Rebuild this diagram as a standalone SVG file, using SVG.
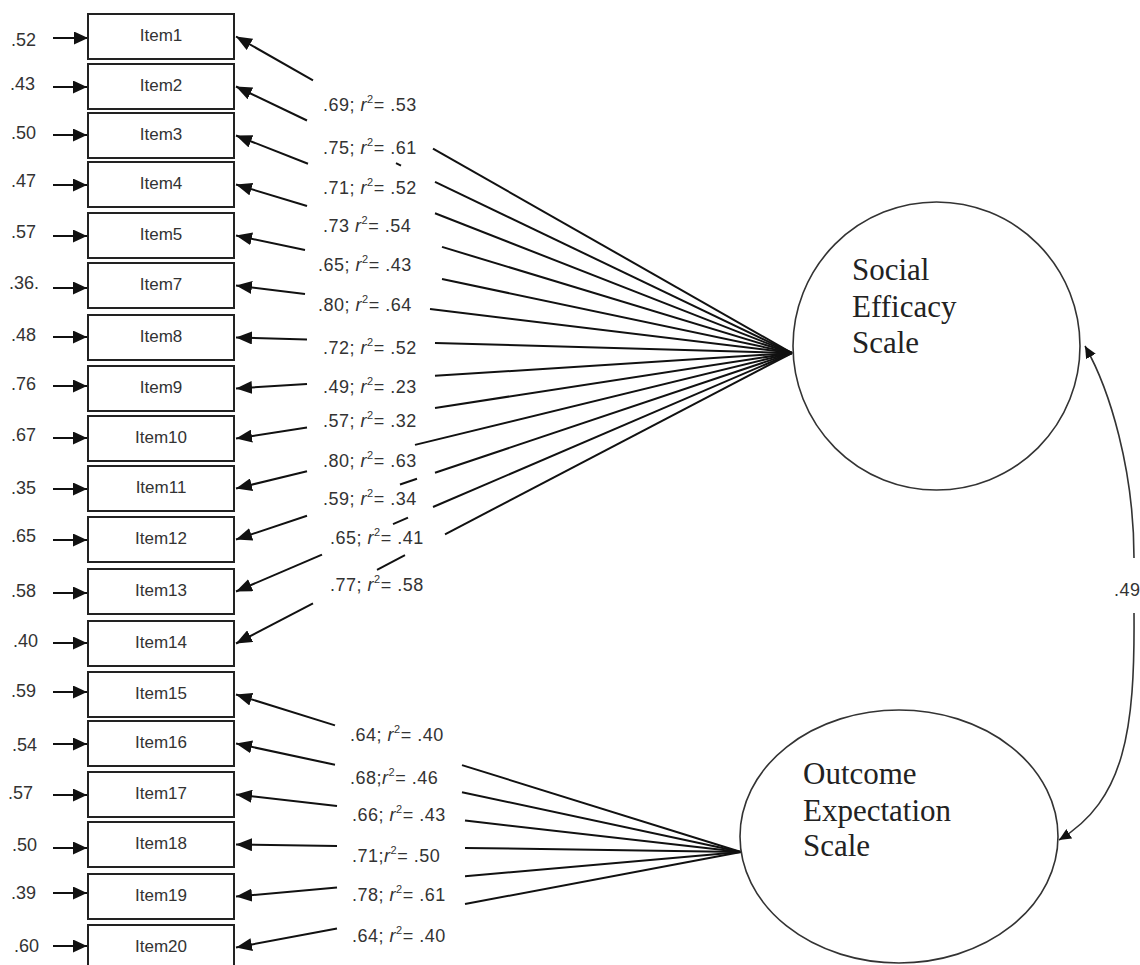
<svg xmlns="http://www.w3.org/2000/svg" width="1140" height="965" viewBox="0 0 1140 965">
<style>
.box{fill:#fff;stroke:#222;stroke-width:2}
.lat{fill:#fff;stroke:#333;stroke-width:1.6}
.it{font-family:"Liberation Sans",Arial,sans-serif;font-size:17px;fill:#333;text-anchor:middle}
.er{font-family:"Liberation Sans",Arial,sans-serif;font-size:18px;fill:#333}
.lb{font-family:"Liberation Sans",Arial,sans-serif;font-size:18px;fill:#333;letter-spacing:0.5px}
.lt{font-family:"Liberation Serif","Times New Roman",serif;font-size:31px;fill:#222}
.ln{fill:none;stroke:#111;stroke-width:2}
.la{fill:none;stroke:#111;stroke-width:2;marker-end:url(#ah)}
.ea{fill:none;stroke:#111;stroke-width:2;marker-end:url(#eh)}
.cv{fill:none;stroke:#333;stroke-width:1.6}
.i{font-style:italic}
</style>
<defs>
<marker id="ah" markerUnits="userSpaceOnUse" markerWidth="17" markerHeight="13" refX="16" refY="6.5" orient="auto"><path d="M0,0 L16,6.5 L0,13 z" fill="#111"/></marker>
<marker id="eh" markerUnits="userSpaceOnUse" markerWidth="15" markerHeight="13" refX="14" refY="6.5" orient="auto"><path d="M0,0 L14,6.5 L0,13 z" fill="#111"/></marker>
<marker id="ch" markerUnits="userSpaceOnUse" markerWidth="13" markerHeight="11" refX="12" refY="5.5" orient="auto-start-reverse"><path d="M0,0 L12,5.5 L0,11 z" fill="#111"/></marker>
</defs>
<rect width="1140" height="965" fill="#fff"/>

<g id="connectors">
<path class="ea" d="M53,38 H88"/>
<path class="ea" d="M53,87 H87"/>
<path class="ea" d="M53,135 H87"/>
<path class="ea" d="M53,185 H87"/>
<path class="ea" d="M53,236 H87"/>
<path class="ea" d="M53,288 H87"/>
<path class="ea" d="M53,337 H87"/>
<path class="ea" d="M53,386 H87"/>
<path class="ea" d="M53,438 H87"/>
<path class="ea" d="M53,489 H87"/>
<path class="ea" d="M53,540 H87"/>
<path class="ea" d="M53,593 H87"/>
<path class="ea" d="M53,643 H87"/>
<path class="ea" d="M53,692 H87"/>
<path class="ea" d="M53,744 H87"/>
<path class="ea" d="M53,795 H87"/>
<path class="ea" d="M53,848 H87"/>
<path class="ea" d="M53,893 H87"/>
<path class="ea" d="M53,946 H87"/>
<path class="la" d="M313,80.3 L236,36.5"/>
<path class="la" d="M307,120.5 L236,86.5"/>
<path class="la" d="M308,163.7 L236,135.5"/>
<path class="la" d="M307,206 L236,184.5"/>
<path class="la" d="M305,250.1 L236,235.5"/>
<path class="la" d="M305,293.9 L236,285.5"/>
<path class="la" d="M307,339.5 L236,337.5"/>
<path class="la" d="M307,384 L236,388.5"/>
<path class="la" d="M307,427.6 L236,438.5"/>
<path class="la" d="M307,471.2 L236,488.5"/>
<path class="la" d="M307,515.7 L236,539.5"/>
<path class="la" d="M322,554.6 L236,591.5"/>
<path class="la" d="M313,603.3 L236,643.5"/>
<path class="ln" d="M433,148.6 L792,353"/>
<path class="ln" d="M435,181.9 L792,353"/>
<path class="ln" d="M435,213.3 L792,353"/>
<path class="ln" d="M442,246.9 L792,353"/>
<path class="ln" d="M442,279 L792,353"/>
<path class="ln" d="M430,309.1 L792,353"/>
<path class="ln" d="M435,343 L792,353"/>
<path class="ln" d="M435,375.8 L792,353"/>
<path class="ln" d="M435,407.9 L792,353"/>
<path class="ln" d="M415,444.9 L792,353"/>
<path class="ln" d="M435,472.8 L792,353"/>
<path class="ln" d="M433,507 L792,353"/>
<path class="ln" d="M445,534.3 L792,353"/>
<path class="ln" d="M396,163.2 L401,165.6"/>
<path class="ln" d="M400,484.5 L417,478.8"/>
<path class="ln" d="M393,524.1 L408,517.7"/>
<path class="ln" d="M377,569.8 L405,555.2"/>
<path class="la" d="M335,725.4 L236,694.5"/>
<path class="la" d="M335,764.8 L236,743.5"/>
<path class="la" d="M337,806 L236,794.5"/>
<path class="la" d="M337,846 L236,844.5"/>
<path class="la" d="M337,887.6 L236,896.5"/>
<path class="la" d="M337,928.4 L236,947.5"/>
<path class="ln" d="M462,765.1 L741,852"/>
<path class="ln" d="M462,792.2 L741,852"/>
<path class="ln" d="M465,820.6 L741,852"/>
<path class="ln" d="M465,847.9 L741,852"/>
<path class="ln" d="M465,876.3 L741,852"/>
<path class="ln" d="M465,904.1 L741,852"/>
<path class="cv" d="M1085,346 C1110,390 1134,470 1134,558" marker-start="url(#ch)"/>
<path class="cv" d="M1134,613 C1135,730 1125,800 1059,840" marker-end="url(#ch)"/>
</g>

<g id="item1"><rect class="box" x="88" y="14" width="146" height="45"/><text class="it" x="161" y="41">Item1</text><text class="er" x="11" y="46">.52</text></g>
<g id="item2"><rect class="box" x="88" y="64" width="146" height="45"/><text class="it" x="161" y="91">Item2</text><text class="er" x="10" y="90">.43</text></g>
<g id="item3"><rect class="box" x="88" y="113" width="146" height="45"/><text class="it" x="161" y="140">Item3</text><text class="er" x="11" y="139">.50</text></g>
<g id="item4"><rect class="box" x="88" y="162" width="146" height="45"/><text class="it" x="161" y="189">Item4</text><text class="er" x="11" y="187">.47</text></g>
<g id="item5"><rect class="box" x="88" y="213" width="146" height="45"/><text class="it" x="161" y="240">Item5</text><text class="er" x="11" y="238">.57</text></g>
<g id="item7"><rect class="box" x="88" y="263" width="146" height="45"/><text class="it" x="161" y="290">Item7</text><text class="er" x="9" y="289">.36.</text></g>
<g id="item8"><rect class="box" x="88" y="315" width="146" height="45"/><text class="it" x="161" y="342">Item8</text><text class="er" x="11" y="341">.48</text></g>
<g id="item9"><rect class="box" x="88" y="366" width="146" height="45"/><text class="it" x="161" y="393">Item9</text><text class="er" x="11" y="390">.76</text></g>
<g id="item10"><rect class="box" x="88" y="416" width="146" height="45"/><text class="it" x="161" y="443">Item10</text><text class="er" x="11" y="441">.67</text></g>
<g id="item11"><rect class="box" x="88" y="466" width="146" height="45"/><text class="it" x="161" y="493">Item11</text><text class="er" x="11" y="494">.35</text></g>
<g id="item12"><rect class="box" x="88" y="517" width="146" height="45"/><text class="it" x="161" y="544">Item12</text><text class="er" x="11" y="542">.65</text></g>
<g id="item13"><rect class="box" x="88" y="569" width="146" height="45"/><text class="it" x="161" y="596">Item13</text><text class="er" x="11" y="597">.58</text></g>
<g id="item14"><rect class="box" x="88" y="621" width="146" height="45"/><text class="it" x="161" y="648">Item14</text><text class="er" x="13" y="647">.40</text></g>
<g id="item15"><rect class="box" x="88" y="672" width="146" height="45"/><text class="it" x="161" y="699">Item15</text><text class="er" x="11" y="697">.59</text></g>
<g id="item16"><rect class="box" x="88" y="721" width="146" height="45"/><text class="it" x="161" y="748">Item16</text><text class="er" x="12" y="751">.54</text></g>
<g id="item17"><rect class="box" x="88" y="772" width="146" height="45"/><text class="it" x="161" y="799">Item17</text><text class="er" x="8" y="799">.57</text></g>
<g id="item18"><rect class="box" x="88" y="822" width="146" height="45"/><text class="it" x="161" y="849">Item18</text><text class="er" x="12" y="851">.50</text></g>
<g id="item19"><rect class="box" x="88" y="874" width="146" height="45"/><text class="it" x="161" y="901">Item19</text><text class="er" x="11" y="899">.39</text></g>
<g id="item20"><rect class="box" x="88" y="925" width="146" height="45"/><text class="it" x="161" y="952">Item20</text><text class="er" x="14" y="952">.60</text></g>

<g id="social-efficacy">
<ellipse class="lat" cx="936.5" cy="346" rx="143.5" ry="144"/>
<text class="lt" x="852" y="280">Social</text>
<text class="lt" x="852" y="317">Efficacy</text>
<text class="lt" x="852" y="353">Scale</text>
</g>
<g id="outcome-expectation">
<ellipse class="lat" cx="899" cy="836.5" rx="159" ry="126.5"/>
<text class="lt" x="803" y="784">Outcome</text>
<text class="lt" x="803" y="821">Expectation</text>
<text class="lt" x="803" y="856">Scale</text>
</g>

<g id="labels">
<text class="lb" x="323" y="111">.69; <tspan class="i">r</tspan><tspan font-size="11" dy="-8">2</tspan><tspan dy="8">= .53</tspan></text>
<text class="lb" x="323" y="154">.75; <tspan class="i">r</tspan><tspan font-size="11" dy="-8">2</tspan><tspan dy="8">= .61</tspan></text>
<text class="lb" x="323" y="194">.71; <tspan class="i">r</tspan><tspan font-size="11" dy="-8">2</tspan><tspan dy="8">= .52</tspan></text>
<text class="lb" x="323" y="232">.73 <tspan class="i">r</tspan><tspan font-size="11" dy="-8">2</tspan><tspan dy="8">= .54</tspan></text>
<text class="lb" x="318" y="271">.65; <tspan class="i">r</tspan><tspan font-size="11" dy="-8">2</tspan><tspan dy="8">= .43</tspan></text>
<text class="lb" x="318" y="311">.80; <tspan class="i">r</tspan><tspan font-size="11" dy="-8">2</tspan><tspan dy="8">= .64</tspan></text>
<text class="lb" x="323" y="354">.72; <tspan class="i">r</tspan><tspan font-size="11" dy="-8">2</tspan><tspan dy="8">= .52</tspan></text>
<text class="lb" x="323" y="393">.49; <tspan class="i">r</tspan><tspan font-size="11" dy="-8">2</tspan><tspan dy="8">= .23</tspan></text>
<text class="lb" x="323" y="427">.57; <tspan class="i">r</tspan><tspan font-size="11" dy="-8">2</tspan><tspan dy="8">= .32</tspan></text>
<text class="lb" x="323" y="467">.80; <tspan class="i">r</tspan><tspan font-size="11" dy="-8">2</tspan><tspan dy="8">= .63</tspan></text>
<text class="lb" x="323" y="505">.59; <tspan class="i">r</tspan><tspan font-size="11" dy="-8">2</tspan><tspan dy="8">= .34</tspan></text>
<text class="lb" x="330" y="544">.65; <tspan class="i">r</tspan><tspan font-size="11" dy="-8">2</tspan><tspan dy="8">= .41</tspan></text>
<text class="lb" x="330" y="591">.77; <tspan class="i">r</tspan><tspan font-size="11" dy="-8">2</tspan><tspan dy="8">= .58</tspan></text>
<text class="lb" x="350" y="741">.64; <tspan class="i">r</tspan><tspan font-size="11" dy="-8">2</tspan><tspan dy="8">= .40</tspan></text>
<text class="lb" x="350" y="784">.68;<tspan class="i">r</tspan><tspan font-size="11" dy="-8">2</tspan><tspan dy="8">= .46</tspan></text>
<text class="lb" x="352" y="821">.66; <tspan class="i">r</tspan><tspan font-size="11" dy="-8">2</tspan><tspan dy="8">= .43</tspan></text>
<text class="lb" x="352" y="862">.71;<tspan class="i">r</tspan><tspan font-size="11" dy="-8">2</tspan><tspan dy="8">= .50</tspan></text>
<text class="lb" x="352" y="901">.78; <tspan class="i">r</tspan><tspan font-size="11" dy="-8">2</tspan><tspan dy="8">= .61</tspan></text>
<text class="lb" x="352" y="942">.64; <tspan class="i">r</tspan><tspan font-size="11" dy="-8">2</tspan><tspan dy="8">= .40</tspan></text>
<text class="lb" x="1114" y="596" font-size="17" letter-spacing="0">.49</text>
</g>
</svg>
